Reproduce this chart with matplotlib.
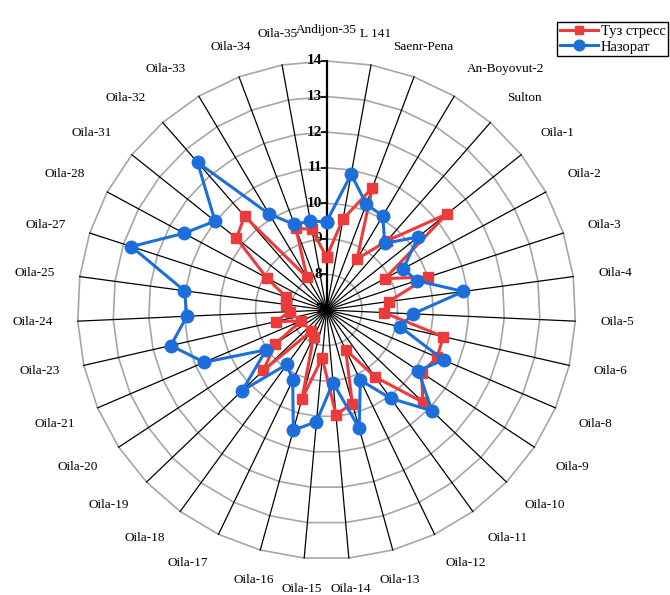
import numpy as np
import matplotlib
matplotlib.use("Agg")
import matplotlib.pyplot as plt

categories = ['Andijon-35', 'L 141', 'Saenr-Pena', 'An-Boyovut-2', 'Sulton',
              'Oila-1', 'Oila-2', 'Oila-3', 'Oila-4', 'Oila-5', 'Oila-6',
              'Oila-8', 'Oila-9', 'Oila-10', 'Oila-11', 'Oila-12', 'Oila-13',
              'Oila-14', 'Oila-15', 'Oila-16', 'Oila-17', 'Oila-18', 'Oila-19',
              'Oila-20', 'Oila-21', 'Oila-23', 'Oila-24', 'Oila-25', 'Oila-27',
              'Oila-28', 'Oila-31', 'Oila-32', 'Oila-33', 'Oila-34', 'Oila-35']

stress = [8.49, 9.6, 10.67, 8.67, 9.58, 11.33, 8.86, 10.0, 8.76, 8.61, 10.37,
          10.38, 10.2, 10.75, 9.33, 8.24, 9.73, 9.95, 8.35, 9.59, 7.84, 7.74,
          9.46, 8.72, 7.78, 8.47, 8.03, 8.15, 8.2, 8.91, 10.24, 10.5, 8.07,
          9.46, 9.3]

control = [9.48, 10.88, 10.18, 10.08, 9.49, 10.29, 9.45, 9.67, 10.88, 9.43,
           9.12, 10.58, 10.09, 11.1, 10.07, 9.19, 10.45, 9.05, 10.15, 10.51,
           9.19, 8.89, 10.28, 9.03, 10.74, 11.49, 10.93, 11.03, 12.77, 11.55,
           11.01, 12.51, 10.14, 9.57, 9.54]

series_names = ['Туз стресс', 'Назорат']
r_ticks = [7, 8, 9, 10, 11, 12, 13, 14]

SERIF = ['Liberation Serif', 'DejaVu Serif']
RED = '#EC3B3B'
BLUE = '#1C6FDB'

r0, r1 = r_ticks[0], r_ticks[-1]
n = len(categories)
theta = np.arange(n) * 2 * np.pi / n
theta_c = np.append(theta, theta[0])
sin_c, cos_c = np.sin(theta_c), np.cos(theta_c)


def to_xy(vals):
    v = np.append(np.asarray(vals, float), vals[0]) - r0
    return v * sin_c, v * cos_c


fig = plt.figure(figsize=(6.7, 5.95), dpi=100)
ax = fig.add_axes([0.1157, 0.0605, 0.7433, 0.837])
R = r1 - r0
ax.set_xlim(-R, R)
ax.set_ylim(-R, R)
ax.set_aspect('equal')
ax.axis('off')

# polygon rings
for v in r_ticks[1:]:
    ax.plot((v - r0) * sin_c, (v - r0) * cos_c, color='#A6A6A6', lw=1.2,
            zorder=1, clip_on=False)
# spokes
for i, t in enumerate(theta):
    ax.plot([0, R * np.sin(t)], [0, R * np.cos(t)], color='black',
            lw=1.6 if i == 0 else 0.9, zorder=2, clip_on=False)
# value-axis ticks
ax.plot([0] * (len(r_ticks) - 1), [v - r0 for v in r_ticks[1:]],
        linestyle='none', marker=0, ms=4, mew=1.2, color='black', zorder=2,
        clip_on=False)

# radial labels
for v in r_ticks:
    ax.annotate(str(v), xy=(0, v - r0), xytext=(-3, 0),
                textcoords='offset points', ha='right', va='center',
                fontsize=11, fontweight='bold', family=SERIF,
                zorder=0 if v == r0 else 3)

# data
xs, ys = to_xy(stress)
l1, = ax.plot(xs, ys, color=RED, lw=2.2, marker='s', ms=7.5, mec=RED,
              mfc=RED, zorder=4, label=series_names[0], clip_on=False)
xc, yc = to_xy(control)
l2, = ax.plot(xc, yc, color=BLUE, lw=2.2, marker='o', ms=9, mec=BLUE,
              mfc=BLUE, zorder=5, label=series_names[1], clip_on=False)

# category labels
off_px = 25
for t, lab in zip(theta, categories):
    s, c = np.sin(t), np.cos(t)
    if abs(s) < 0.4:
        ha = 'center'
    else:
        ha = 'left' if s > 0 else 'right'
    if abs(c) < 0.35:
        va = 'center'
    else:
        va = 'bottom' if c > 0 else 'top'
    dx = off_px * s * 72 / 100
    dy = off_px * c * 72 / 100
    ax.annotate(lab, xy=(R * s, R * c), xytext=(dx, dy),
                textcoords='offset points', ha=ha, va=va, fontsize=9.5,
                family=SERIF, annotation_clip=False)

leg = fig.legend(handles=[l1, l2], loc='upper left',
                 bbox_to_anchor=(557 / 670, 1 - 22 / 595),
                 prop={'family': SERIF, 'size': 10.5}, frameon=True,
                 fancybox=False, edgecolor='black', framealpha=1,
                 handlelength=2.6, borderpad=0.2, labelspacing=0.15,
                 handletextpad=0.2, borderaxespad=0, markerscale=0.85)
leg.get_frame().set_linewidth(1.0)

fig.savefig('out.png', dpi=100)
